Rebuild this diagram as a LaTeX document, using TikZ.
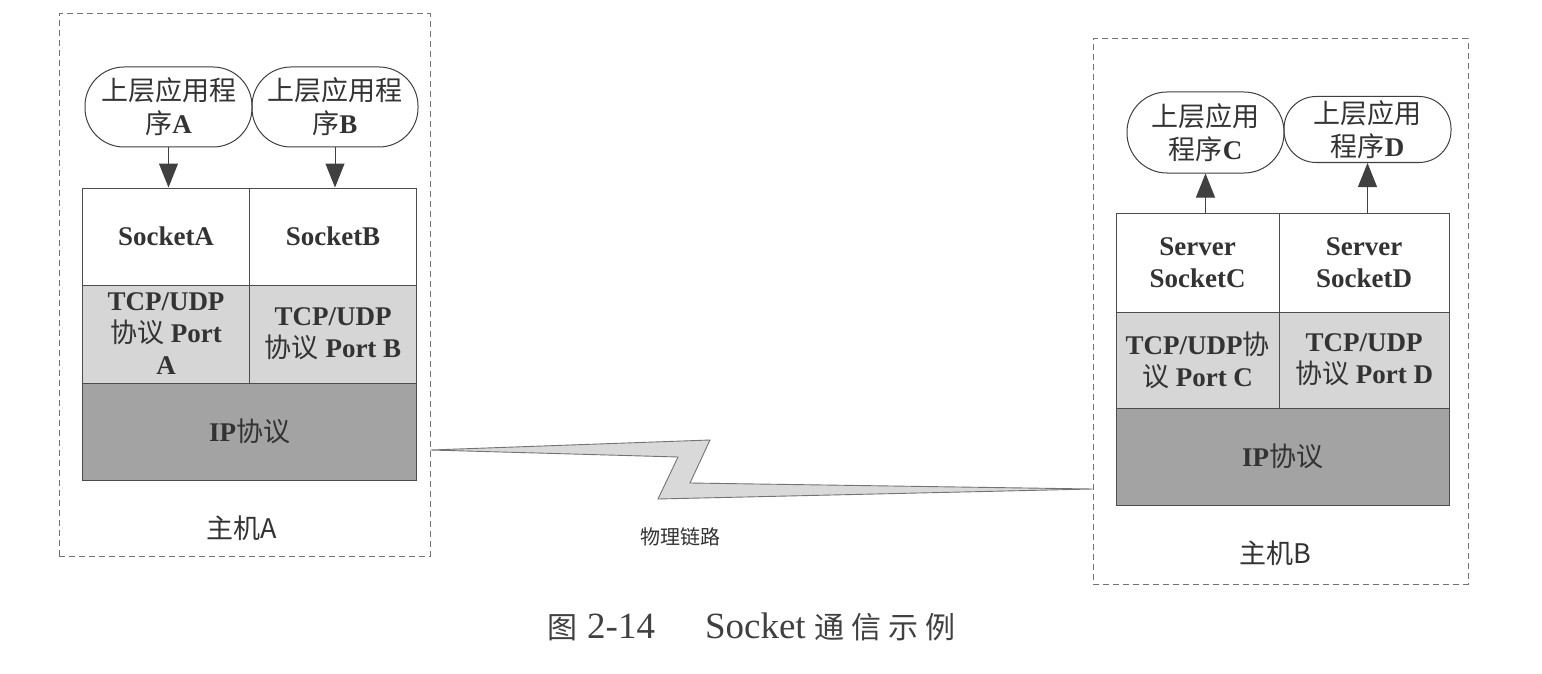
\documentclass[tikz,border=0pt]{standalone}
\usepackage{fontspec}
\setmainfont{Liberation Serif}
\newfontfamily\cjk{Noto Sans CJK SC}
\newcommand{\zhtxt}[1]{{\cjk\mdseries #1}}
\usetikzlibrary{shapes.geometric,arrows.meta}
\tikzset{
  hostbox/.style={draw=black!55, dash pattern=on 6pt off 4pt, line width=1pt, inner sep=0pt},
  app/.style={rectangle, draw=black!75, line width=1pt, inner sep=0pt, align=center,
              font=\fontsize{27}{33}\selectfont, text=black!80},
  layer/.style={draw=black!70, line width=1pt, inner sep=0pt, align=center,
              font=\fontsize{27}{32}\selectfont\bfseries, text=black!80},
  sockbox/.style={layer, fill=white},
  tcpbox/.style={layer, fill=black!16},
  ipbox/.style={layer, fill=black!36},
  arr/.style={-{Triangle[length=24pt,width=19pt]}, line width=1pt, draw=black!75, fill=black!80},
  linkshape/.style={fill=black!15, draw=black!55, line width=0.9pt, line join=miter},
  lab/.style={inner sep=0pt, text=black!80}
}
\begin{document}
\begin{tikzpicture}[x=1pt,y=-1pt]
\useasboundingbox (0,0) rectangle (1542,674);
\fill[white] (0,0) rectangle (1542,674);

% host boxes
\node[hostbox, minimum width=371, minimum height=542] (hostA) at (244.5,285) {};
\node[hostbox, minimum width=375, minimum height=545] (hostB) at (1280.5,311.5) {};

% host A stack
\node[sockbox, minimum width=167, minimum height=97] (sockA) at (166,236.5) {SocketA};
\node[sockbox, minimum width=167, minimum height=97] (sockB) at (333,236.5) {SocketB};
\node[tcpbox, minimum width=167, minimum height=98] (tcpA) at (166,334) {TCP/UDP\\\zhtxt{协议} Port\\A};
\node[tcpbox, minimum width=167, minimum height=98] (tcpB) at (333,334) {TCP/UDP\\\zhtxt{协议} Port B};
\node[ipbox, minimum width=334, minimum height=97] (ipA) at (249.5,431.5) {IP\zhtxt{协议}};

% host A apps
\node[app, rounded corners=39, minimum width=167, minimum height=80] (ellA) at (168.5,107) {\zhtxt{上层应用程}\\\zhtxt{序}\textbf{A}};
\node[app, rounded corners=39, minimum width=166, minimum height=80] (ellB) at (335,107) {\zhtxt{上层应用程}\\\zhtxt{序}\textbf{B}};
\draw[arr] (ellA.south) -- (ellA.south |- sockA.north);
\draw[arr] (ellB.south) -- (ellB.south |- sockB.north);

% host B stack
\node[sockbox, minimum width=163, minimum height=99] (sockC) at (1197.5,262.5) {Server\\SocketC};
\node[sockbox, minimum width=170, minimum height=99] (sockD) at (1364,262.5) {Server\\SocketD};
\node[tcpbox, minimum width=163, minimum height=96] (tcpC) at (1197.5,360) {TCP/UDP\zhtxt{协}\\\zhtxt{议} Port C};
\node[tcpbox, minimum width=170, minimum height=96] (tcpD) at (1364,360) {TCP/UDP\\\zhtxt{协议} Port D};
\node[ipbox, minimum width=333, minimum height=97] (ipB) at (1282.5,456.5) {IP\zhtxt{协议}};

% host B apps
\node[app, rounded corners=40, minimum width=157, minimum height=81] (ellC) at (1205.5,132.5) {\zhtxt{上层应用}\\\zhtxt{程序}\textbf{C}};
\node[app, rounded corners=32, minimum width=167, minimum height=66] (ellD) at (1367.5,129.5) {\zhtxt{上层应用}\\\zhtxt{程序}\textbf{D}};
\draw[arr] (ellC.south |- sockC.north) -- (ellC.south);
\draw[arr] (ellD.south |- sockD.north) -- (ellD.south);

% host labels
\node[lab, font=\cjk\fontsize{27}{27}\selectfont] (labA) at (242,528) {主机A};
\node[lab, font=\cjk\fontsize{27}{27}\selectfont] (labB) at (1275,553) {主机B};

% physical link
\coordinate (linkL) at (hostA.east |- 0,450);
\coordinate (linkR) at (hostB.west |- 0,489);
\filldraw[linkshape] (linkL) -- (710,440) -- (690,483) -- (linkR) -- (658,499) -- (678,457) -- cycle;
\node[lab, font=\cjk\fontsize{20}{20}\selectfont] (linklab) at (680,537) {物理链路};

% caption
\node[lab, anchor=west, text=black!75] (cap) at (547,627)
  {{\cjk\fontsize{30}{30}\selectfont 图}\hspace{10pt}{\fontsize{37}{37}\selectfont 2-14}\hspace{50pt}{\fontsize{37}{37}\selectfont Socket}\hspace{9pt}{\cjk\fontsize{30}{30}\selectfont 通\hspace{7pt}信\hspace{7pt}示\hspace{7pt}例}};
\end{tikzpicture}
\end{document}
